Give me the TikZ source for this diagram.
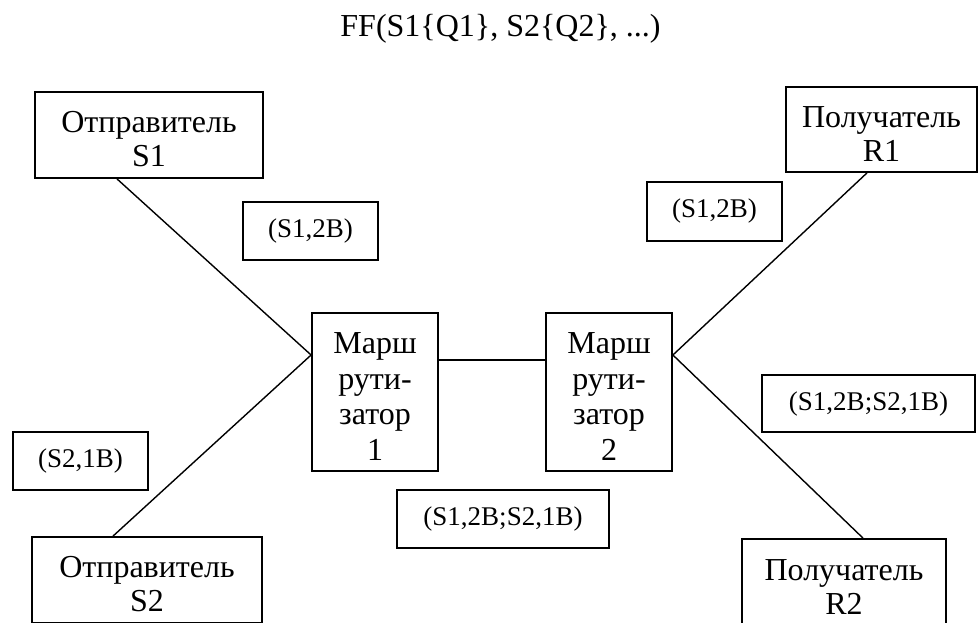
\documentclass[tikz,border=0pt]{standalone}
\usepackage{fontspec}
\setmainfont{Liberation Serif}
% invisible height on a first line that lowers a multi-line label inside its box
\newcommand\tallstrut{\rule{0pt}{30pt}}
\begin{document}
\begin{tikzpicture}[x=1pt,y=-1pt,
  hostbox/.style={draw, line width=1.8pt, inner sep=0pt, align=center,
    font=\fontsize{32}{34}\selectfont},
  routerbox/.style={draw, line width=1.8pt, inner sep=0pt, align=center,
    minimum width=126pt, minimum height=158pt,
    font=\fontsize{32}{35.7}\selectfont},
  tagbox/.style={draw, line width=1.8pt, inner sep=0pt, minimum height=58pt,
    font=\fontsize{27}{30}\selectfont},
  link/.style={draw, line width=1.4pt}]
  \useasboundingbox (0,0) rectangle (978,622);

  % flow specification
  \node[anchor=base, font=\fontsize{32}{34}\selectfont] (flow) at (500.5,36)
    {FF(S1\{Q1\}, S2\{Q2\}, ...)};

  % senders and receivers
  \node[hostbox, minimum width=228pt, minimum height=86pt] (s1) at (149,135)
    {\tallstrut Отправитель\\S1};
  \node[hostbox, minimum width=230pt, minimum height=86pt] (s2) at (147,580)
    {\tallstrut Отправитель\\S2};
  \node[hostbox, minimum width=191pt, minimum height=85pt] (rc1) at (881.5,129.5)
    {\tallstrut Получатель\\R1};
  \node[hostbox, minimum width=204pt, minimum height=86pt] (rc2) at (844,582)
    {\tallstrut Получатель\\R2};

  % routers
  \node[routerbox] (rt1) at (375,392) {\tallstrut Марш\\рути-\\затор\\1};
  \node[routerbox] (rt2) at (609,392) {\tallstrut Марш\\рути-\\затор\\2};

  % reservation tags
  \node[tagbox, minimum width=135pt] (t1) at (310.5,231) {(S1,2B)};
  \node[tagbox, minimum width=135pt, minimum height=59pt] (t2) at (714.5,211.5) {(S1,2B)};
  \node[tagbox, minimum width=135pt] (t3) at (80.5,461) {(S2,1B)};
  \node[tagbox, minimum width=213pt, minimum height=57pt] (t4) at (868.5,403.5) {(S1,2B;S2,1B)};
  \node[tagbox, minimum width=212pt] (t5) at (503,519) {(S1,2B;S2,1B)};

  % links
  \draw[link] ([xshift=-32pt]s1.south) -- ([yshift=37pt]rt1.west);
  \draw[link] ([xshift=-34pt]s2.north) -- ([yshift=37pt]rt1.west);
  \draw[link] ([yshift=32pt]rt1.east) -- ([yshift=32pt]rt2.west);
  \draw[link] ([xshift=-14.5pt]rc1.south) -- ([yshift=37pt]rt2.east);
  \draw[link] ([xshift=19pt]rc2.north) -- ([yshift=37pt]rt2.east);
\end{tikzpicture}
\end{document}
